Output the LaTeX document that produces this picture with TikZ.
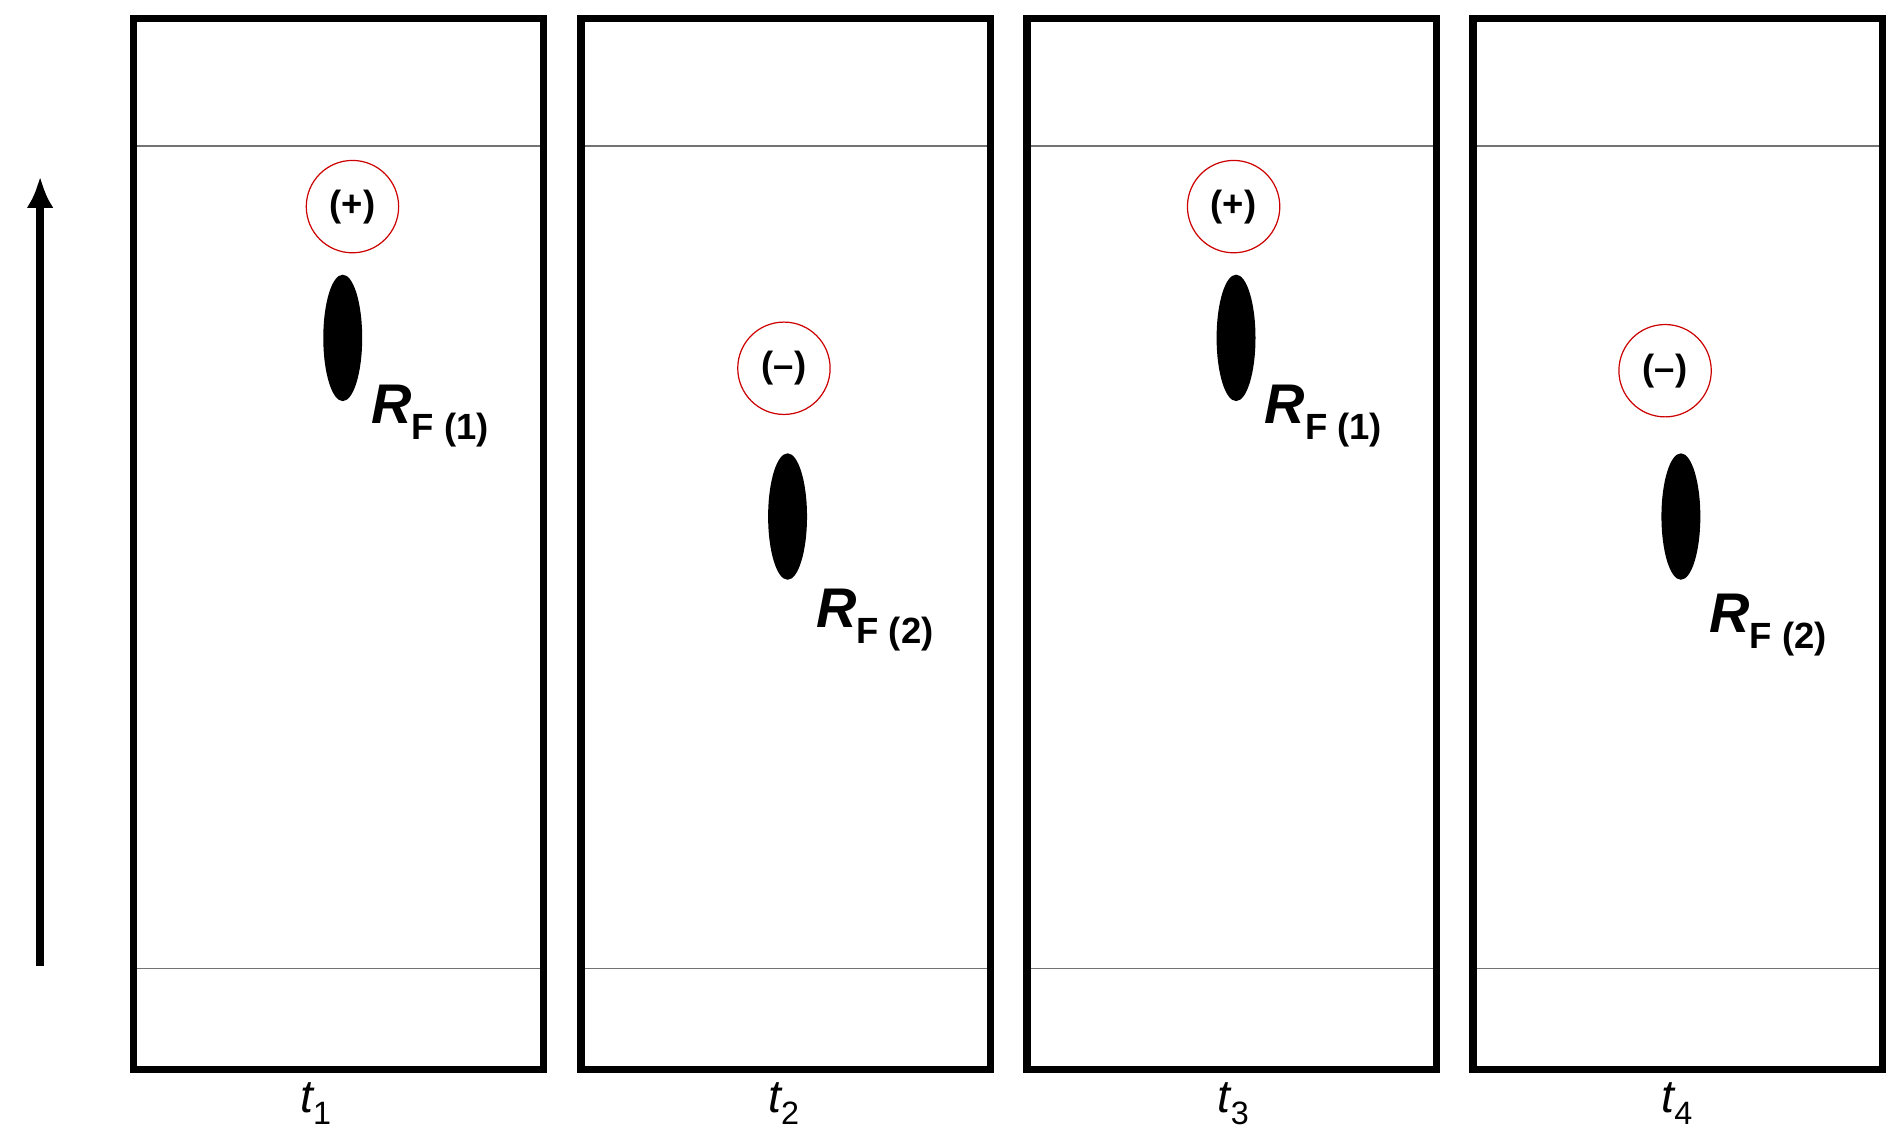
\documentclass[tikz,border=0pt]{standalone}
\usetikzlibrary{arrows.meta,shapes.geometric}
\usepackage{fontspec}
\setmainfont{Liberation Sans}
\begin{document}
\begin{tikzpicture}[x=1pt,y=-1pt,
  col/.style={draw=black,line width=6pt},
  sep/.style={draw=black!55,line width=1.2pt},
  chg/.style={circle,draw=red!80!black,line width=1pt,minimum size=76pt,inner sep=0pt,font=\fontsize{30}{30}\selectfont\bfseries},
  spot/.style={ellipse,fill=black,minimum width=32pt,minimum height=104pt,inner sep=0pt},
  rlab/.style={anchor=west,font=\fontsize{46}{46}\selectfont\bfseries\itshape},
  tlab/.style={font=\fontsize{38}{38}\selectfont\itshape}]
\useasboundingbox (0,0) rectangle (1560,943);
\foreach \i/\x in {1/110,2/478,3/845,4/1212}{
  \draw[col] (\x,15) rectangle (\x+337,880);
  \draw[sep] (\x+3,120) -- (\x+334,120);
  \draw[sep] (\x+3,797) -- (\x+334,797);
}
\coordinate (a0) at (33,795);
\coordinate (a1) at (33,145);
\draw[line width=6pt,-{Latex[length=26pt,width=22pt]}] (a0) -- (a1);
\node[chg] (c1) at (290,170) {(+)};
\node[chg] (c2) at (645,303) {(–)};
\node[chg] (c3) at (1015,170) {(+)};
\node[chg] (c4) at (1370,305) {(–)};
\node[spot] (s1) at (282,278) {};
\node[spot] (s2) at (648,425) {};
\node[spot] (s3) at (1017,278) {};
\node[spot] (s4) at (1383,425) {};
\node[rlab] (r1) at (302,342) {R\textsubscript{\upshape\fontsize{30}{30}\selectfont F (1)}};
\node[rlab] (r2) at (668,510) {R\textsubscript{\upshape\fontsize{30}{30}\selectfont F (2)}};
\node[rlab] (r3) at (1037,342) {R\textsubscript{\upshape\fontsize{30}{30}\selectfont F (1)}};
\node[rlab] (r4) at (1403,514) {R\textsubscript{\upshape\fontsize{30}{30}\selectfont F (2)}};
\node[tlab] (t1) at (260,908) {t\textsubscript{\upshape 1}};
\node[tlab] (t2) at (645,908) {t\textsubscript{\upshape 2}};
\node[tlab] (t3) at (1015,908) {t\textsubscript{\upshape 3}};
\node[tlab] (t4) at (1380,908) {t\textsubscript{\upshape 4}};
\end{tikzpicture}
\end{document}
